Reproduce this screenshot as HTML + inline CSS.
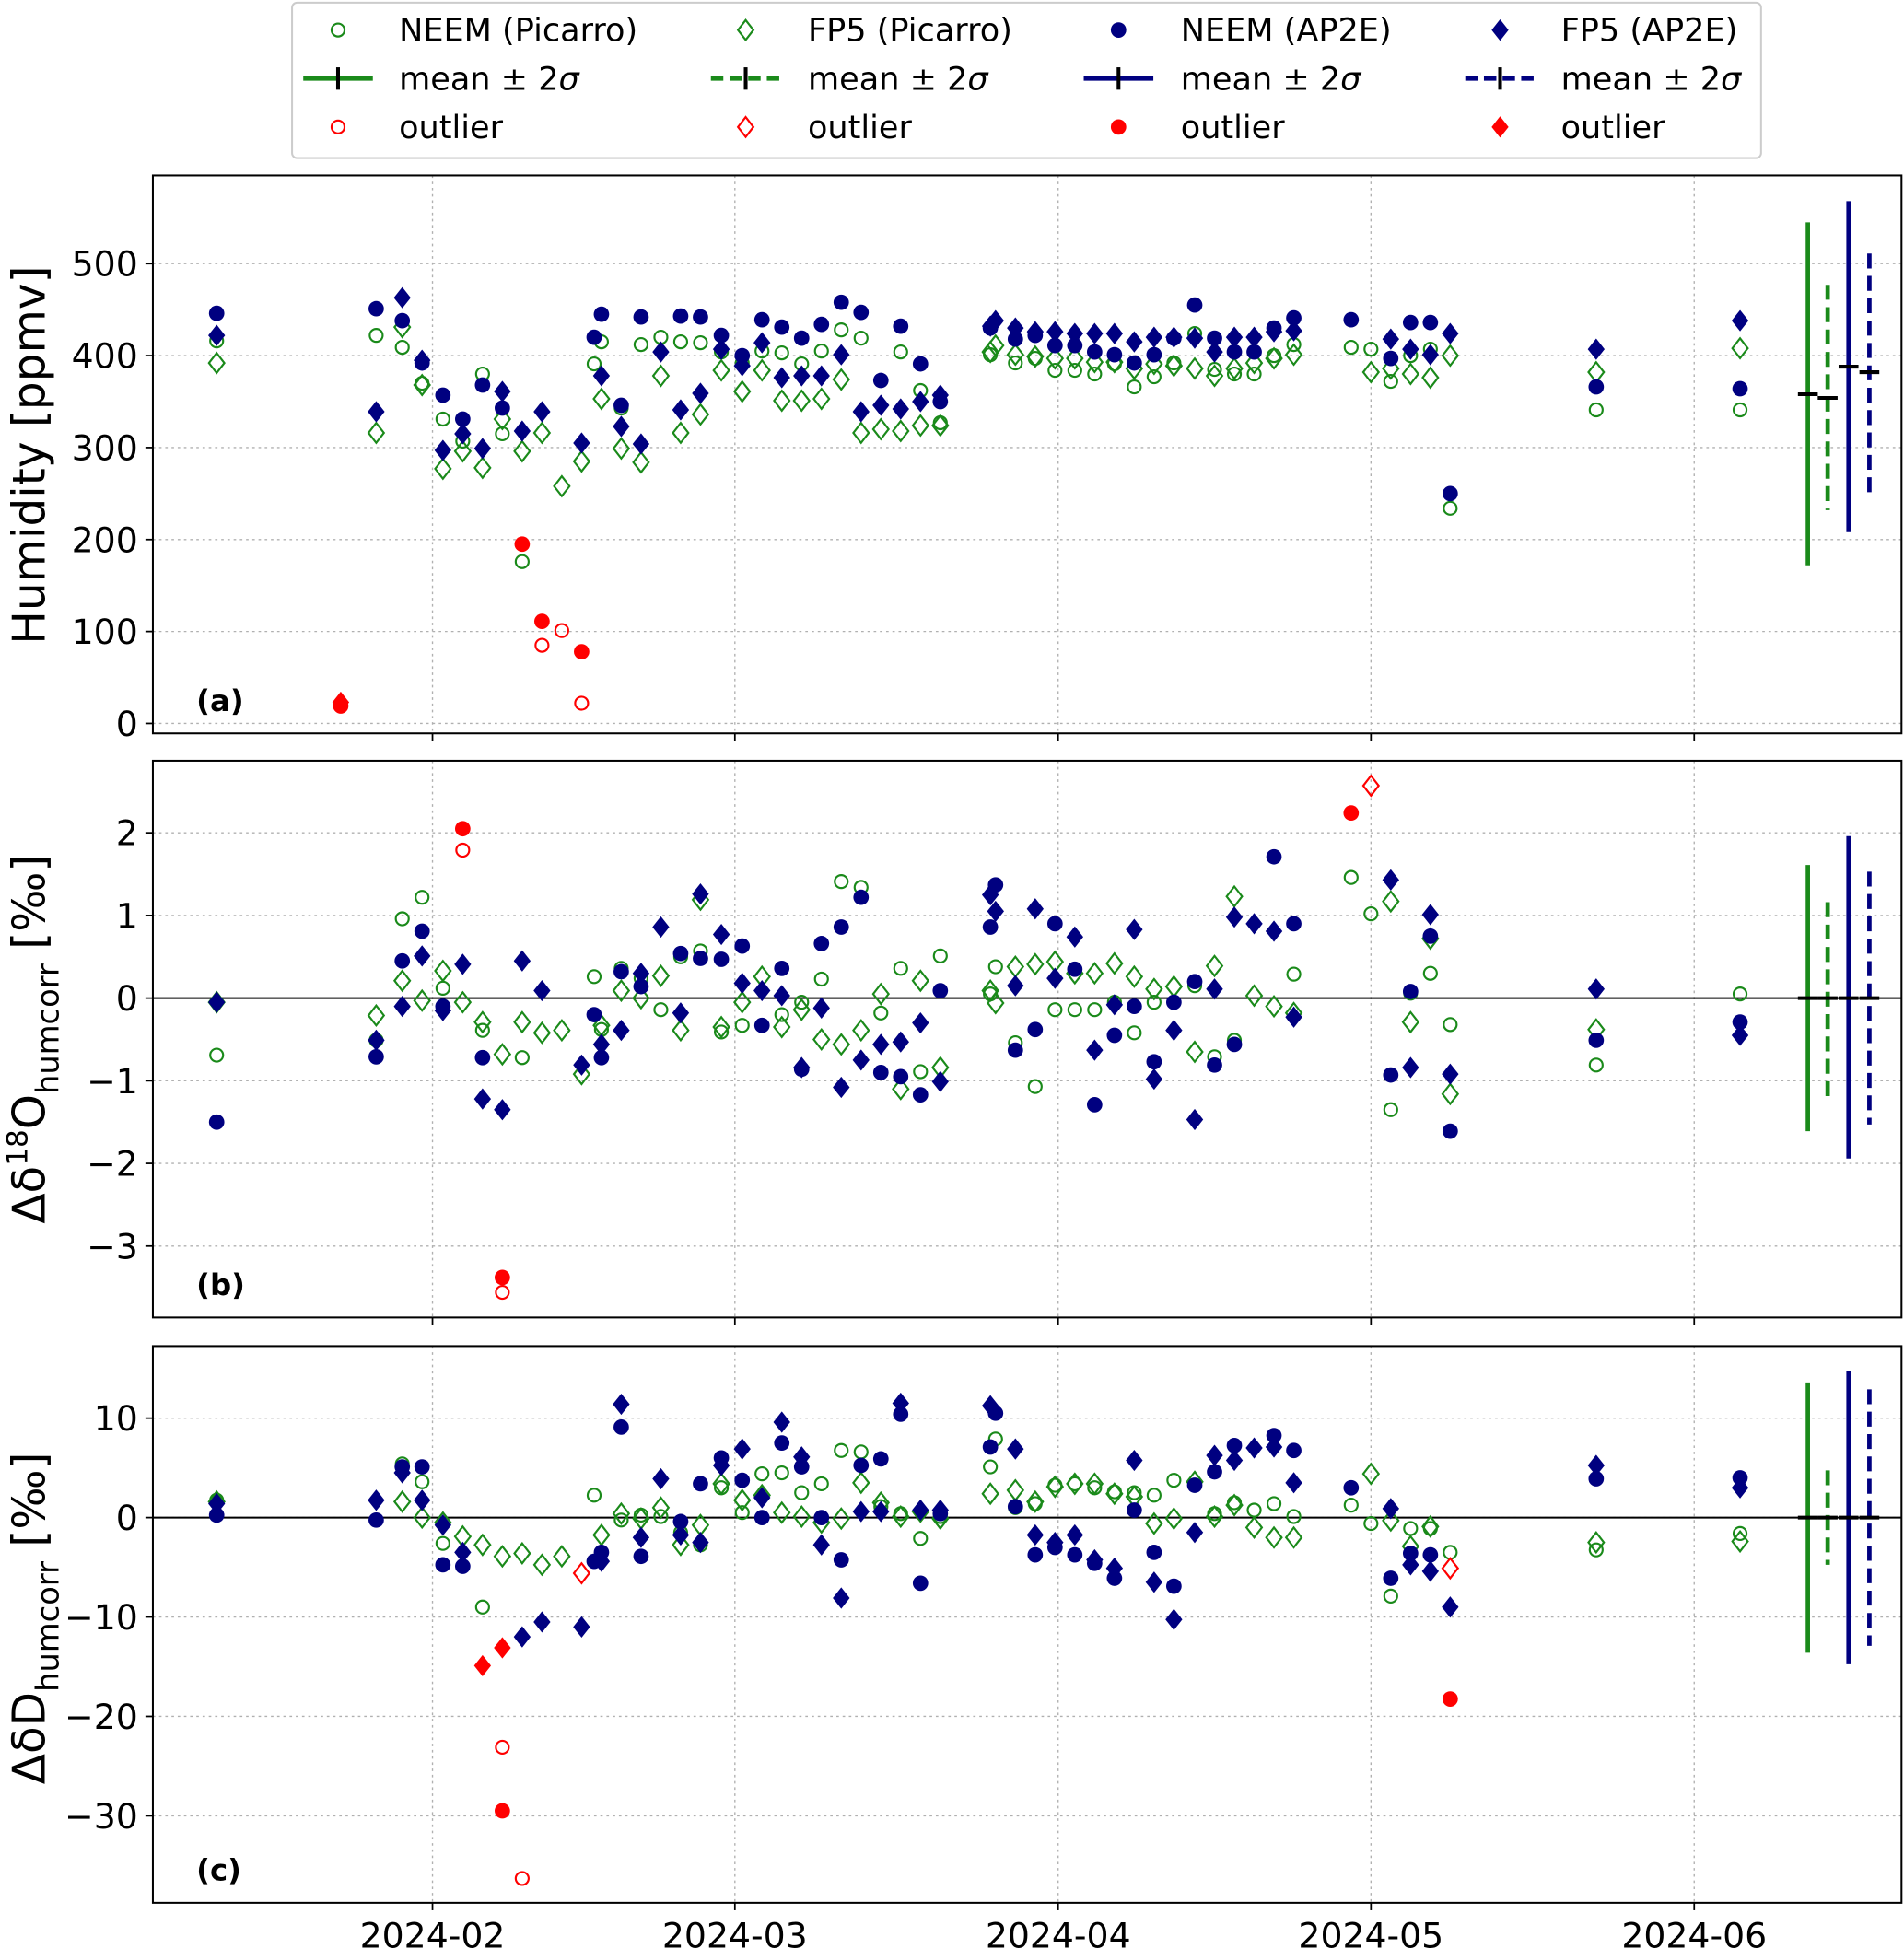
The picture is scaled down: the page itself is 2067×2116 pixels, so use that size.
<!DOCTYPE html>
<html><head><meta charset="utf-8"><style>
html,body{margin:0;padding:0;background:#fff}
svg{display:block;font-family:"DejaVu Sans","Liberation Sans",sans-serif}
</style></head><body>
<svg id="chart" width="2067" height="2116" viewBox="0 0 1532 1568" xmlns="http://www.w3.org/2000/svg">
<g id="legend">
<rect x="235" y="2" width="1182" height="125" rx="4" fill="#fff" stroke="#ccc" stroke-width="1.5"/>
</g>
</svg>
<script>
// ---- data ----
// column dates: days since 2024-02-01
const days=[-20.7,-8.8,-5.4,-2.9,-1.0,1.0,2.9,4.8,6.7,8.6,10.5,12.4,14.3,15.5,16.2,18.1,20.0,21.9,23.8,25.7,27.7,29.7,31.6,33.5,35.4,37.3,39.2,41.1,43.0,44.9,46.8,48.7,53.5,54.0,55.9,57.8,59.7,61.6,63.5,65.4,67.3,69.2,71.1,73.1,75.0,76.9,78.8,80.7,82.6,88.1,90.0,91.9,93.8,95.7,97.6,111.6,125.4];
const n=null;
const aNeemPic=[416,n,422,409,370,331,307,380,315,176,n,n,n,391,415,343,412,420,415,414,404,392,405,403,391,405,428,419,n,404,362,327,401,n,392,397,384,384,380,391,366,377,392,424,385,380,380,400,412,409,407,372,400,407,234,341,341];
const aFp5Pic=[392,n,316,431,368,277,296,278,331,296,316,258,285,n,353,299,284,378,316,336,384,361,384,351,351,353,374,316,320,318,324,324,404,411,401,399,397,397,393,393,386,391,389,386,378,386,392,397,401,n,382,386,380,376,400,382,408];
const aNeemAp=[446,n,451,438,392,357,331,368,343,n,n,n,n,420,445,346,442,n,443,442,422,400,439,431,419,434,458,447,373,432,391,350,430,n,418,422,411,411,404,401,392,401,419,455,419,404,404,430,441,439,n,397,436,436,250,366,364];
const aFp5Ap=[422,n,339,463,395,297,315,299,361,318,339,n,305,n,378,323,304,404,341,359,407,389,414,376,378,378,401,339,346,342,350,357,432,438,430,426,426,424,424,424,415,420,420,419,404,420,420,426,427,n,n,418,407,401,424,407,438];
const aOutNeemAp=[[-8.8,19],[8.6,195],[10.5,111],[14.3,78]];
const aOutNeemPic=[[10.5,85],[12.4,101],[14.3,22]];
const aOutFp5Ap=[[-8.8,23]];
const aOutFp5Pic=[];
const bNeemPic=[-0.69,n,-0.51,0.96,1.22,0.12,n,-0.39,n,-0.72,n,n,n,0.26,-0.38,0.36,0.24,-0.14,0.5,0.57,-0.41,-0.33,n,-0.2,-0.05,0.23,1.41,1.34,-0.18,0.36,-0.89,0.51,0.05,0.38,-0.54,-1.07,-0.14,-0.14,-0.14,-0.05,-0.42,-0.05,n,0.15,-0.71,-0.51,n,n,0.29,1.46,1.02,-1.35,0.06,0.3,-0.32,-0.81,0.05];
const bFp5Pic=[-0.05,n,-0.21,0.21,-0.03,0.33,-0.05,-0.29,-0.68,-0.29,-0.42,-0.39,-0.92,n,-0.33,0.09,0,0.27,-0.39,1.19,-0.35,-0.05,0.26,-0.35,-0.14,-0.5,-0.56,-0.39,0.05,-1.1,0.21,-0.84,0.09,-0.06,0.38,0.41,0.44,0.3,0.3,0.42,0.26,0.11,0.14,-0.65,0.39,1.23,0.03,-0.1,-0.18,n,n,1.17,-0.29,0.72,-1.16,-0.38,n];
const bNeemAp=[-1.5,n,-0.71,0.45,0.81,-0.1,n,-0.72,n,n,n,n,n,-0.2,-0.72,0.32,0.14,n,0.54,0.48,0.47,0.63,-0.33,0.36,-0.86,0.66,0.86,1.22,-0.9,-0.95,-1.17,0.09,0.86,1.37,-0.63,-0.38,0.9,0.35,-1.29,-0.45,-0.1,-0.77,-0.05,0.2,-0.81,-0.56,n,1.71,0.9,n,n,-0.93,0.08,0.75,-1.61,-0.51,-0.29];
const bFp5Ap=[-0.05,n,-0.51,-0.1,0.51,-0.15,0.41,-1.22,-1.35,0.45,0.09,n,-0.81,n,-0.56,-0.39,0.3,0.86,-0.18,1.26,0.77,0.18,0.09,0.03,-0.84,-0.12,-1.08,-0.75,-0.56,-0.53,-0.3,-1.01,1.25,1.05,0.15,1.08,0.24,0.74,-0.63,-0.08,0.83,-0.98,-0.39,-1.47,0.11,0.98,0.9,0.81,-0.23,n,n,1.43,-0.84,1.01,-0.92,0.11,-0.45];
const bOutNeemAp=[[2.9,2.05],[6.7,-3.38],[88.1,2.24]];
const bOutNeemPic=[[2.9,1.79],[6.7,-3.56]];
const bOutFp5Ap=[];
const bOutFp5Pic=[[90.0,2.57]];
const cNeemPic=[1.75,n,n,5.4,3.6,-2.6,n,-9,n,n,n,n,n,2.25,n,-0.25,0.25,0.1,-1.5,-2.75,3,0.5,4.4,4.5,2.5,3.4,6.75,6.6,1.1,0.4,-2.1,0.1,5.1,7.9,1,1.4,3.25,3.4,3,2.6,2.5,2.25,3.75,n,0.4,1.5,0.75,1.4,0.1,1.25,-0.6,-7.9,-1.1,-1.1,-3.5,-3.25,-1.6];
const cFp5Pic=[1.6,n,n,1.6,0,-0.5,-1.9,-2.75,-3.9,-3.6,-4.75,-3.9,n,n,-1.75,0.4,-0.1,1,-2.75,-0.75,3.4,1.75,2.25,0.5,0.1,-0.5,-0.1,3.5,1.5,0.1,0.6,-0.1,2.4,n,2.75,1.6,3.1,3.4,3.4,2.4,2.1,-0.6,-0.1,3.6,0.1,1.25,-1,-2,-2,n,4.4,-0.3,-2.9,-0.9,n,-2.5,-2.4];
const cNeemAp=[0.25,n,-0.25,5.1,5.1,-4.75,-4.9,n,n,n,n,n,n,-4.4,-3.5,9.1,-3.9,n,-0.4,3.4,6,3.75,0,7.5,5.1,0,-4.25,5.25,5.9,10.4,-6.6,0.4,7.1,10.5,1.1,-3.75,-3,-3.75,-4.6,-6.1,0.75,-3.5,-6.9,3.25,4.6,7.25,n,8.25,6.75,3,n,-6.1,-3.6,-3.75,n,3.9,4];
const cFp5Ap=[1.4,n,1.75,4.5,1.75,-0.75,-3.5,n,n,-12,-10.5,n,-11,n,-4.4,11.4,-2,3.9,-1.75,-2.5,5.25,6.9,2,9.6,6.1,-2.75,-8.1,0.6,0.6,11.5,0.75,0.75,11.25,n,6.9,-1.75,-2.5,-1.75,-4.25,-5.1,5.75,-6.5,-10.25,-1.5,6.25,5.75,7,7.1,3.5,n,n,0.9,-4.75,-5.4,-9,5.25,3];
const cOutNeemAp=[[6.7,-29.5],[97.6,-18.25]];
const cOutNeemPic=[[6.7,-23.1],[8.6,-36.3]];
const cOutFp5Ap=[[4.8,-14.9],[6.7,-13.1]];
const cOutFp5Pic=[[14.3,-5.6],[97.6,-5.1]];
// summary stats: [mean, mean-2σ, mean+2σ] for NEEM Pic, FP5 Pic, NEEM AP2E, FP5 AP2E
const statDays=[131.9,133.8,135.8,137.8];
const aStats=[[358,172,545],[354,232,477],[388,208,568],[382,249,511]];
const bStats=[[0,-1.61,1.61],[0,-1.22,1.16],[0,-1.94,1.96],[0,-1.53,1.53]];
const cStats=[[0,-13.6,13.6],[0,-4.75,4.75],[0,-14.75,14.75],[0,-12.9,12.9]];
const xTickDays=[0,29,60,90,121];
const xTickLabels=["2024-02","2024-03","2024-04","2024-05","2024-06"];
const aTicks=[0,100,200,300,400,500];
const bTicks=[-3,-2,-1,0,1,2];
const cTicks=[-30,-20,-10,0,10];

// ---- drawing ----
const NS="http://www.w3.org/2000/svg";
const svg=document.getElementById('chart');
const GREEN="#1a8a1a",NAVY="#000080",RED="#ff0000";
const X0=123,X1=1530;
function xs(d){return 348+d*8.39;}
function mk(tag,attrs,parent){const e=document.createElementNS(NS,tag);for(const k in attrs)e.setAttribute(k,attrs[k]);(parent||svg).appendChild(e);return e;}
function marker(g,kind,fill,stroke,cx,cy){
  let e;
  if(kind==='c'){e=mk('circle',{cx:cx,cy:cy,r:fill==='none'?5.2:6.2,fill:fill,stroke:stroke,'stroke-width':fill==='none'?1.6:0},g);}
  else{const h=fill==='none'?8:8.6,w=fill==='none'?6.2:6.8;e=mk('polygon',{points:`${cx},${cy-h} ${cx+w},${cy} ${cx},${cy+h} ${cx-w},${cy}`,fill:fill,stroke:stroke,'stroke-width':fill==='none'?1.6:0},g);}
  return e;
}
const legendG=document.getElementById('legend');
const panels=[
 {id:'a',top:141,bot:590,y0:582,k:0.74,ticks:aTicks,fmt:v=>String(v),
  series:[aNeemPic,aFp5Pic,aNeemAp,aFp5Ap],outs:[aOutNeemPic,aOutFp5Pic,aOutNeemAp,aOutFp5Ap],stats:aStats,zero:false},
 {id:'b',top:612,bot:1060,y0:803,k:66.5,ticks:bTicks,fmt:v=>v<0?'\u2212'+(-v):String(v),
  series:[bNeemPic,bFp5Pic,bNeemAp,bFp5Ap],outs:[bOutNeemPic,bOutFp5Pic,bOutNeemAp,bOutFp5Ap],stats:bStats,zero:true},
 {id:'c',top:1083,bot:1531,y0:1221,k:8,ticks:cTicks,fmt:v=>v<0?'\u2212'+(-v):String(v),
  series:[cNeemPic,cFp5Pic,cNeemAp,cFp5Ap],outs:[cOutNeemPic,cOutFp5Pic,cOutNeemAp,cOutFp5Ap],stats:cStats,zero:true}
];
const sDef=[
 {name:'neem-picarro',kind:'c',fill:'none',stroke:GREEN,line:GREEN,dash:null},
 {name:'fp5-picarro',kind:'d',fill:'none',stroke:GREEN,line:GREEN,dash:'12,6'},
 {name:'neem-ap2e',kind:'c',fill:NAVY,stroke:NAVY,line:NAVY,dash:null},
 {name:'fp5-ap2e',kind:'d',fill:NAVY,stroke:NAVY,line:NAVY,dash:'12,6'}
];
panels.forEach(p=>{
  const ys=v=>p.y0-v*p.k;
  const g=mk('g',{});
  
  
  const clipId='clip'+p.id;
  const cp=mk('clipPath',{id:clipId},g);mk('rect',{x:X0,y:p.top,width:X1-X0,height:p.bot-p.top},cp);
  xTickDays.forEach((d,i)=>{
    const l=mk('line',{x1:xs(d),x2:xs(d),y1:p.top,y2:p.bot,stroke:'#b0b0b0','stroke-width':1,'stroke-dasharray':'2,3'},g);
    
    
    mk('line',{x1:xs(d),x2:xs(d),y1:p.bot,y2:p.bot+6,stroke:'#000','stroke-width':1.3},g);
    if(p.id==='c'){const t=mk('text',{x:xs(d),y:p.bot+36,'font-size':28,'text-anchor':'middle'},g);t.textContent=xTickLabels[i];
      
      }
  });
  p.ticks.forEach(v=>{
    const y=ys(v);
    mk('line',{x1:X0,x2:X1,y1:y,y2:y,stroke:'#b0b0b0','stroke-width':1,'stroke-dasharray':'2,3'},g);
    mk('line',{x1:X0-6,x2:X0,y1:y,y2:y,stroke:'#000','stroke-width':1.3},g);
    const t=mk('text',{x:X0-12,y:y+10,'font-size':28,'text-anchor':'end'},g);t.textContent=p.fmt(v);
    
    
  });
  if(p.zero){mk('line',{x1:X0,x2:X1,y1:ys(0),y2:ys(0),stroke:'#000','stroke-width':1.5},g);}
  const pg=mk('g',{'clip-path':`url(#${clipId})`},g);
  p.series.forEach((arr,si)=>{
    const sd=sDef[si];
    arr.forEach((v,i)=>{if(v===null)return;
      const m=marker(pg,sd.kind,sd.fill,sd.stroke,xs(days[i]),ys(v));
      
      
    });
  });
  p.outs.forEach((arr,si)=>{
    const sd=sDef[si];
    arr.forEach(pt=>{
      const m=marker(pg,sd.kind,sd.fill==='none'?'none':RED,RED,xs(pt[0]),ys(pt[1]));
      
      
    });
  });
  p.stats.forEach((s,si)=>{
    const sd=sDef[si],x=xs(statDays[si]);
    const l=mk('line',{x1:x,x2:x,y1:ys(s[2]),y2:ys(s[1]),stroke:sd.line,'stroke-width':3.5},pg);
    if(sd.dash)l.setAttribute('stroke-dasharray',sd.dash);
    
    
    const mm=mk('line',{x1:x-8,x2:x+8,y1:ys(s[0]),y2:ys(s[0]),stroke:'#000','stroke-width':3},pg);
    
    
  });
  const fr=mk('rect',{x:X0,y:p.top,width:X1-X0,height:p.bot-p.top,fill:'none',stroke:'#000','stroke-width':1.5},g);
  
  
  const lab=mk('text',{x:158,y:p.bot-18,'font-size':24,'font-weight':'bold'},g);lab.textContent='('+p.id+')';
  
  
});
function ytitle(cy,parts,name){
  const t=mk('text',{transform:`translate(36,${cy}) rotate(-90)`,'font-size':36,'text-anchor':'middle'});
  
  
  parts.forEach(pp=>{const s=mk('tspan',{},t);s.textContent=pp[0];
    if(pp[1]==='sup'){s.setAttribute('font-size',23);s.setAttribute('dy',-14);}
    if(pp[1]==='sub'){s.setAttribute('font-size',25);s.setAttribute('dy',11);}
    if(pp[1]==='base'){s.setAttribute('dy',pp[2]);}
  });
}
ytitle(366,[['Humidity [ppmv]']],'y-axis-title-humidity');
ytitle(836,[['Δδ'],['18','sup'],['O','base',14],['humcorr','sub'],[' [‰]','base',-11]],'y-axis-title-d18o');
ytitle(1302,[['ΔδD'],['humcorr','sub'],[' [‰]','base',-11]],'y-axis-title-dd');
const lcols=[[272,321],[600,650],[900,950],[1207,1256]];
const lrows=[24,63,102];
const lnames=['NEEM (Picarro)','FP5 (Picarro)','NEEM (AP2E)','FP5 (AP2E)'];
sDef.forEach((sd,ci)=>{
  const mx=lcols[ci][0],tx=lcols[ci][1];
  const e1=marker(legendG,sd.kind,sd.fill,sd.stroke,mx,lrows[0]);
  
  
  const ln=mk('line',{x1:mx-28,x2:mx+28,y1:lrows[1],y2:lrows[1],stroke:sd.line,'stroke-width':3.5},legendG);
  if(sd.dash)ln.setAttribute('stroke-dasharray','10,5');
  mk('line',{x1:mx,x2:mx,y1:lrows[1]-9,y2:lrows[1]+9,stroke:'#000','stroke-width':3},legendG);
  const e3=marker(legendG,sd.kind,sd.fill==='none'?'none':RED,RED,mx,lrows[2]);
  
  
  const texts=[lnames[ci],null,'outlier'];
  texts.forEach((tt,ri)=>{
    const t=mk('text',{x:tx,y:lrows[ri]+9,'font-size':26},legendG);
    
    
    if(tt)t.textContent=tt;else{const a=mk('tspan',{},t);a.textContent='mean ± 2';const b=mk('tspan',{'font-style':'italic'},t);b.textContent='σ';}
  });
});
</script>
</body></html>
